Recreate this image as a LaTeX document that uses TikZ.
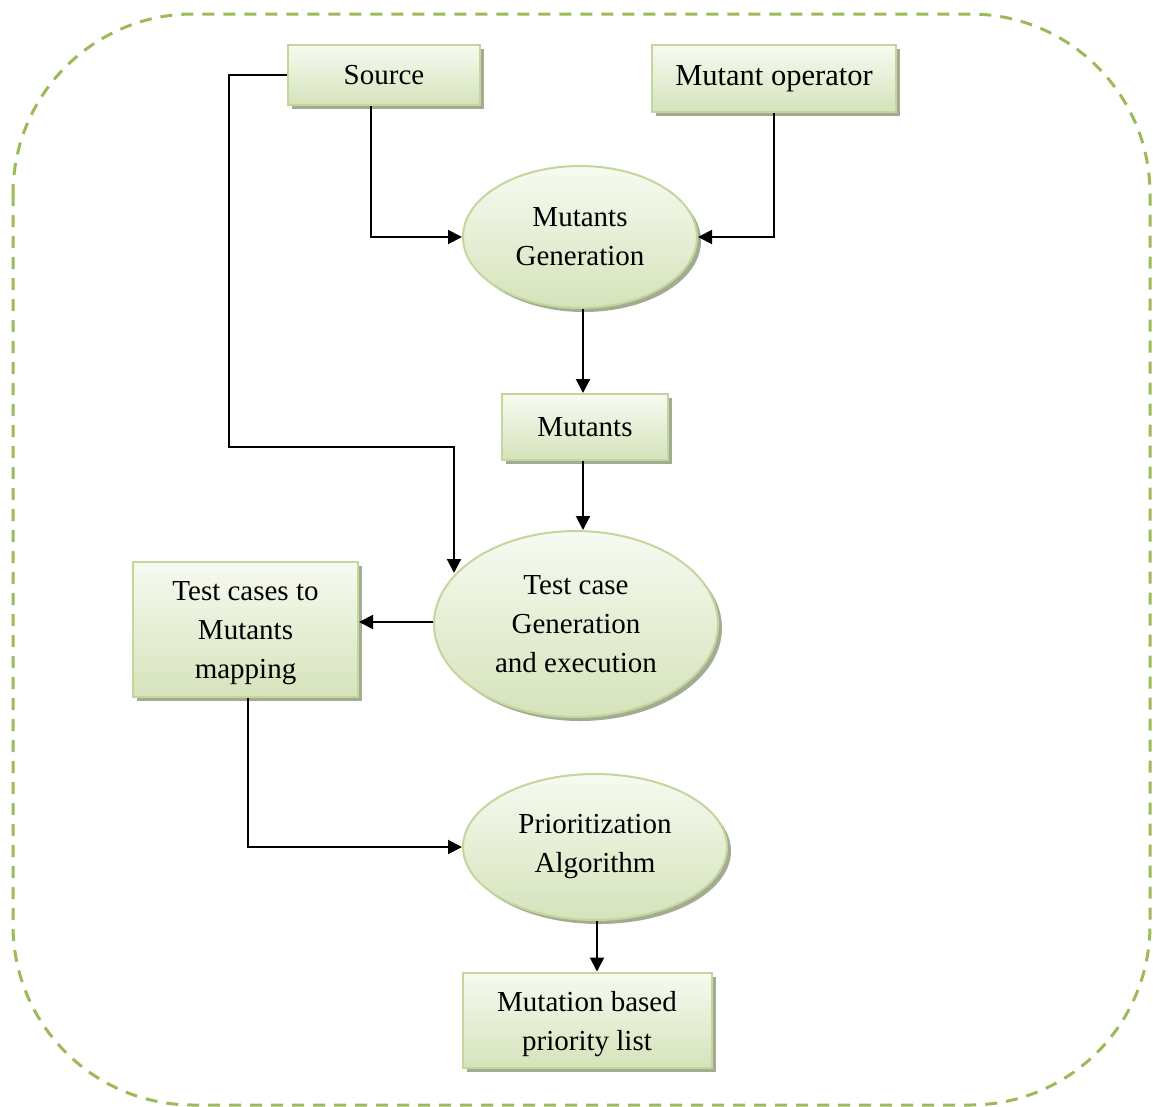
\documentclass[tikz,border=0pt]{standalone}
\usepackage{fontspec}
\setmainfont{Liberation Serif}
\usetikzlibrary{arrows.meta,shadows,shapes.geometric}
\definecolor{brd}{HTML}{C3D69B}
\definecolor{topc}{HTML}{F7FAF1}
\definecolor{botc}{HTML}{D5E3BA}
\definecolor{shd}{HTML}{A3AC93}
\definecolor{outer}{HTML}{9BBB59}
\tikzset{
  base/.style={draw=brd, line width=2pt, top color=topc, bottom color=botc,
    drop shadow={shadow xshift=4pt, shadow yshift=-4pt, opacity=1, fill=shd},
    align=center, inner sep=0pt, text=black,
    font=\fontsize{29pt}{39pt}\selectfont},
  boxn/.style={base, rectangle},
  elln/.style={base, ellipse},
  arr/.style={line width=2pt, -{Triangle[length=14pt,width=14pt]}},
}
\begin{document}
\begin{tikzpicture}[x=1pt,y=-1pt]
\useasboundingbox (0,0) rectangle (1153,1106);
\draw[outer, line width=3pt, dash pattern=on 12pt off 9pt, rounded corners=180pt] (13,14) rectangle (1150,1105);

\node[boxn, minimum width=192pt, minimum height=60pt] (src) at (384,75) {Source};
\node[boxn, minimum width=244pt, minimum height=67pt, font=\fontsize{30.5pt}{39pt}\selectfont] (mop) at (774,78.5) {Mutant operator};
\node[elln, minimum width=234pt, minimum height=142pt] (mg) at (580,237) {Mutants\\Generation};
\node[boxn, minimum width=166pt, minimum height=66pt] (mut) at (585,427) {Mutants};
\node[elln, minimum width=284pt, minimum height=186pt] (tc) at (576,624) {Test case\\Generation\\and execution};
\node[boxn, minimum width=225pt, minimum height=135pt] (map) at (245.5,629.5) {\rule{0pt}{27pt}Test cases to\\Mutants\\mapping};
\node[elln, minimum width=264pt, minimum height=146pt] (pa) at (595,847) {Prioritization\\Algorithm};
\node[boxn, minimum width=249pt, minimum height=95pt] (pl) at (587,1020) {\rule{0pt}{28pt}Mutation based\\priority list};

\coordinate (k1) at (229,447);
\coordinate (k2) at (454,447);
\coordinate (k3) at (454,573);
\coordinate (s1) at (371,0);
\coordinate (m1) at (583,0);
\coordinate (p1) at (597,0);
\coordinate (q1) at (248,0);

\draw[arr] (src.west) -| (k1) -- (k2) -- (k3);
\draw[arr] (src.south -| s1) |- (mg.west);
\draw[arr] (mop.south) |- (mg.east);
\draw[arr] (mg.south -| m1) -- (mut.north -| m1);
\draw[arr] (mut.south -| m1) -- (tc.north -| m1);
\draw[arr] (tc.west |- 0,622) -- (map.east |- 0,622);
\draw[arr] (map.south -| q1) |- (pa.west);
\draw[arr] (pa.south -| p1) -- (pl.north -| p1);
\end{tikzpicture}
\end{document}
